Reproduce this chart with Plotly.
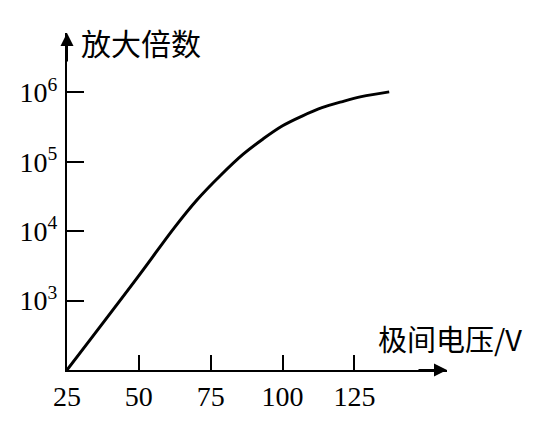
import plotly.graph_objects as go

# data
voltage = [25, 50, 62.3, 70.2, 78.3, 86.3, 93.2, 100, 106.8, 113.7, 120.5, 127.4, 137.1]
gain = [1.0e2, 2.29e3, 1.12e4, 2.82e4, 6.31e4, 1.29e5, 2.14e5, 3.31e5, 4.57e5, 6.03e5, 7.33e5, 8.71e5, 1.02e6]

x_ticks = [25, 50, 75, 100, 125]
x_ticklabels = ["25", "50", "75", "100", "125"]
y_ticks = [1e3, 1e4, 1e5, 1e6]
y_ticklabels = ["10<sup>3</sup>", "10<sup>4</sup>", "10<sup>5</sup>", "10<sup>6</sup>"]

y_title = "放大倍数"
x_title = "极间电压/V"

num_font = dict(family="Liberation Serif, Times New Roman, serif", size=28, color="black")
cjk_font_y = dict(family="Noto Sans CJK SC, sans-serif", size=30, color="black")
cjk_font_x = dict(family="Noto Sans CJK SC, sans-serif", size=29, color="black")

fig = go.Figure()
fig.add_trace(go.Scatter(
    x=voltage, y=gain, mode="lines",
    line=dict(color="black", width=3, shape="spline", smoothing=1.0),
    showlegend=False, hoverinfo="skip",
))

fig.update_layout(
    width=552, height=416,
    margin=dict(l=53, r=113, t=25, b=51),
    paper_bgcolor="white", plot_bgcolor="white",
    xaxis=dict(
        range=[25, 157.2], showgrid=False, zeroline=False,
        showline=True, linecolor="black", linewidth=2,
        tickvals=x_ticks, ticktext=x_ticklabels,
        ticks="inside", ticklen=15, tickwidth=2, tickcolor="black",
        tickfont=num_font, ticklabelstandoff=0,
    ),
    yaxis=dict(
        type="log", range=[2, 6.857], showgrid=False, zeroline=False,
        showline=True, linecolor="black", linewidth=2,
        tickvals=y_ticks, ticktext=y_ticklabels,
        ticks="inside", ticklen=17, tickwidth=2, tickcolor="black",
        tickfont=num_font, ticklabelstandoff=2,
    ),
    annotations=[
        dict(xref="paper", yref="paper", x=1.0, y=0.0, ax=-30, ay=0,
             text="", showarrow=True, arrowhead=2, arrowsize=1.3,
             arrowwidth=2, arrowcolor="black"),
        dict(xref="paper", yref="paper", x=0.0, y=1.0, ax=0, ay=30,
             text="", showarrow=True, arrowhead=2, arrowsize=1.3,
             arrowwidth=2, arrowcolor="black"),
        dict(xref="paper", yref="paper", x=0.031, y=0.974,
             xanchor="left", yanchor="middle", text=y_title,
             showarrow=False, font=cjk_font_y),
        dict(xref="paper", yref="paper", x=0.813, y=0.094,
             xanchor="left", yanchor="middle", text=x_title,
             showarrow=False, font=cjk_font_x),
    ],
)

fig.write_html("out.html")
